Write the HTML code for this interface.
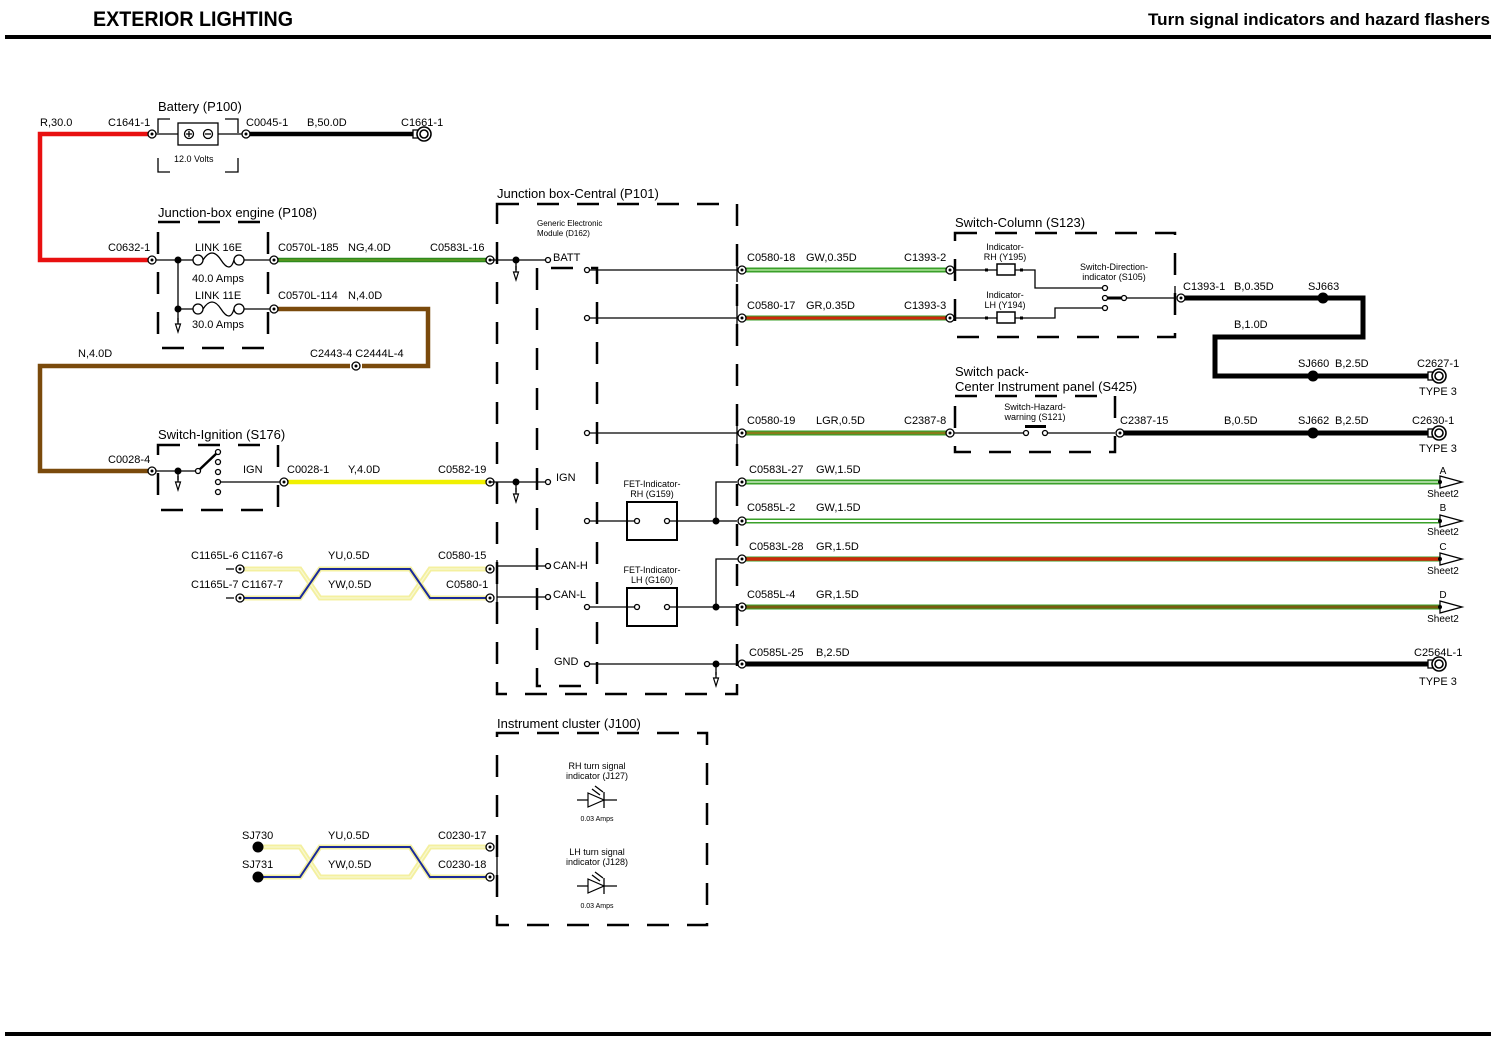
<!DOCTYPE html>
<html><head><meta charset="utf-8"><style>
html,body{margin:0;padding:0;background:#fff;}
svg{display:block;font-family:"Liberation Sans",sans-serif;}
.t{font-size:11px;fill:#000;}
.s{font-size:9px;fill:#000;}
.xs{font-size:7px;fill:#000;}
.h{font-size:13px;fill:#000;}
.d{fill:none;stroke:#000;stroke-width:2.5;stroke-dasharray:22,18;}
.l{fill:none;stroke:#000;stroke-width:1.3;}
.c{fill:#fff;stroke:#000;stroke-width:1.3;}
</style></head><body>
<svg width="1512" height="1042" viewBox="0 0 1512 1042" xmlns="http://www.w3.org/2000/svg">
<defs>
<g id="cn"><circle r="4" class="c"/><circle r="1.5" fill="#000"/></g>
<g id="gr"><path d="M0,0 v8" class="l"/><path d="M-2.5,6 L0,14 L2.5,6 Z" fill="#fff" stroke="#000" stroke-width="1.2"/></g>
<g id="gnd"><rect x="-11" y="-4" width="5" height="8" fill="#fff" stroke="#000" stroke-width="1.3"/><circle r="7" fill="#fff" stroke="#000" stroke-width="1.6"/><circle r="4" fill="none" stroke="#000" stroke-width="1.6"/></g>
<g id="ar"><path d="M0,-6 L22,0 L0,6 Z" fill="#fff" stroke="#000" stroke-width="1.3"/><circle r="2" fill="#000"/></g>
</defs>

<!-- header -->
<text x="93" y="26" style="font-size:21px;font-weight:bold" textLength="200" lengthAdjust="spacingAndGlyphs">EXTERIOR LIGHTING</text>
<text x="1148" y="25" style="font-size:17px;font-weight:bold" textLength="342" lengthAdjust="spacingAndGlyphs">Turn signal indicators and hazard flashers</text>
<rect x="5" y="35" width="1486" height="4" fill="#000"/>
<rect x="5" y="1032" width="1486" height="4" fill="#000"/>

<!-- red wire -->
<path d="M152,134 H40 V260 H152" fill="none" stroke="#e81010" stroke-width="4.5"/>
<text class="t" x="40" y="126">R,30.0</text>
<!-- battery -->
<text class="h" x="158" y="111">Battery (P100)</text>
<path d="M158,133 V119 H170 M225,119 H238 V133 M158,158 V172 H170 M225,172 H238 V158" class="l" stroke-width="2.5"/>
<path d="M152,134 H178 M218,134 H246" class="l"/>
<rect x="178" y="123" width="40" height="22" fill="#fff" stroke="#000" stroke-width="1.3"/>
<circle cx="189" cy="134" r="4.5" class="c"/><path d="M186,134h6M189,131v6" class="l"/>
<circle cx="208" cy="134" r="4.5" class="c"/><path d="M205,134h6" class="l"/>
<text class="s" x="174" y="162">12.0 Volts</text>
<text class="t" x="108" y="126">C1641-1</text>
<text class="t" x="246" y="126">C0045-1</text>
<text class="t" x="307" y="126">B,50.0D</text>
<text class="t" x="401" y="126">C1661-1</text>
<path d="M246,134 H414" stroke="#000" stroke-width="4.5"/>
<use href="#gnd" x="424" y="134"/>
<use href="#cn" x="152" y="134"/><use href="#cn" x="246" y="134"/>

<!-- junction box engine -->
<text class="h" x="158" y="217">Junction-box engine (P108)</text>
<path d="M158,222 H268 V348 H158 Z" class="d"/>
<text class="t" x="108" y="251">C0632-1</text>
<path d="M152,260 H193 M244,260 H274 M178,309 H193 M244,309 H274 M178,260 V322" class="l"/>
<circle cx="178" cy="260" r="3.5"/><circle cx="178" cy="309" r="3.5"/>
<use href="#gr" x="178" y="318"/>
<circle cx="198" cy="260" r="5" class="c"/><circle cx="239" cy="260" r="5" class="c"/>
<path d="M203,260 q9,-14 18,0 q9,14 13,0" class="l"/>
<circle cx="198" cy="309" r="5" class="c"/><circle cx="239" cy="309" r="5" class="c"/>
<path d="M203,309 q9,-14 18,0 q9,14 13,0" class="l"/>
<text class="t" x="195" y="251">LINK 16E</text>
<text class="t" x="192" y="282">40.0 Amps</text>
<text class="t" x="195" y="299">LINK 11E</text>
<text class="t" x="192" y="328">30.0 Amps</text>
<text class="t" x="278" y="251">C0570L-185</text>
<text class="t" x="348" y="251">NG,4.0D</text>
<text class="t" x="430" y="251">C0583L-16</text>
<text class="t" x="278" y="299">C0570L-114</text>
<text class="t" x="348" y="299">N,4.0D</text>
<path d="M274,260 H490" stroke="#2e8a1e" stroke-width="4.5"/>
<path d="M274,260 H490" stroke="#6a9a20" stroke-width="1.2"/>
<path d="M274,309 H428 V366 H362 M350,366 H40 V471 H152" fill="none" stroke="#7a4a0c" stroke-width="4.5"/>
<use href="#cn" x="152" y="260"/><use href="#cn" x="274" y="260"/><use href="#cn" x="274" y="309"/><use href="#cn" x="490" y="260"/>
<use href="#cn" x="356" y="366"/>
<text class="t" x="78" y="357">N,4.0D</text>
<text class="t" x="310" y="357">C2443-4 C2444L-4</text>

<!-- switch ignition -->
<text class="h" x="158" y="439">Switch-Ignition (S176)</text>
<path d="M158,445 H278 V510 H158 Z" class="d"/>
<text class="t" x="108" y="463">C0028-4</text>
<path d="M152,471 H198 M178,471 V480 M218,482 H284" class="l"/>
<circle cx="178" cy="471" r="3.5"/><use href="#gr" x="178" y="476"/>
<path d="M198,471 L218,452" stroke="#000" stroke-width="2.5"/>
<circle cx="198" cy="471" r="2.5" class="c"/>
<circle cx="218" cy="452" r="2.5" class="c"/><circle cx="218" cy="462" r="2.5" class="c"/><circle cx="218" cy="472" r="2.5" class="c"/><circle cx="218" cy="482" r="2.5" class="c"/><circle cx="218" cy="492" r="2.5" class="c"/>
<text class="t" x="243" y="473">IGN</text>
<text class="t" x="287" y="473">C0028-1</text>
<text class="t" x="348" y="473">Y,4.0D</text>
<text class="t" x="438" y="473">C0582-19</text>
<path d="M284,482 H490" stroke="#f0f000" stroke-width="4.5"/>
<use href="#cn" x="152" y="471"/><use href="#cn" x="284" y="482"/><use href="#cn" x="490" y="482"/>

<!-- CAN twisted pair -->
<text class="t" x="191" y="559">C1165L-6 C1167-6</text>
<text class="t" x="191" y="588">C1165L-7 C1167-7</text>
<text class="t" x="328" y="559">YU,0.5D</text>
<text class="t" x="328" y="588">YW,0.5D</text>
<text class="t" x="438" y="559">C0580-15</text>
<text class="t" x="446" y="588">C0580-1</text>
<g fill="none" stroke-width="5" stroke="#f4f0a0">
<path d="M240,569 H300 L320,598 H410 L430,569 H490"/>
<path d="M240,598 H300 L320,569 H410 L430,598 H490"/>
</g>
<path d="M240,569 H300 L320,598 H410 L430,569 H490" fill="none" stroke="#f8f8d0" stroke-width="1.3"/>
<path d="M240,598 H300 L320,569 H410 L430,598 H490" fill="none" stroke="#1a2a9a" stroke-width="2"/>
<use href="#cn" x="240" y="569"/><use href="#cn" x="240" y="598"/>
<path d="M226,569h8M226,598h8" class="l"/>
<use href="#cn" x="490" y="569"/><use href="#cn" x="490" y="598"/>
<path d="M497,560 V606" class="l"/>

<!-- junction box central -->
<text class="h" x="497" y="198">Junction box-Central (P101)</text>
<path d="M497,204 H737 V694 H497 Z" class="d"/>
<path d="M537,268 V686 H597 V268 H537" class="d"/>
<text class="xs" x="537" y="226" style="font-size:8px">Generic Electronic</text>
<text class="xs" x="537" y="236" style="font-size:8px">Module (D162)</text>
<path d="M490,260 H545 M516,260 V270 M490,482 H545 M516,482 V492 M497,566 H545 M497,597 H545" class="l"/>
<circle cx="516" cy="260" r="3.5"/><use href="#gr" x="516" y="266"/>
<circle cx="516" cy="482" r="3.5"/><use href="#gr" x="516" y="488"/>
<circle cx="548" cy="260" r="2.5" class="c"/><text class="t" x="553" y="261">BATT</text>
<circle cx="548" cy="482" r="2.5" class="c"/><text class="t" x="556" y="481">IGN</text>
<circle cx="548" cy="566" r="2.5" class="c"/><text class="t" x="553" y="569">CAN-H</text>
<circle cx="548" cy="597" r="2.5" class="c"/><text class="t" x="553" y="598">CAN-L</text>
<circle cx="587" cy="664" r="2.5" class="c"/><text class="t" x="554" y="665">GND</text>
<path d="M590,270 H737 M590,318 H737 M590,433 H737" class="l"/>
<circle cx="587" cy="270" r="2.5" class="c"/><circle cx="587" cy="318" r="2.5" class="c"/><circle cx="587" cy="433" r="2.5" class="c"/>
<!-- FET -->
<text class="s" x="652" y="487" text-anchor="middle">FET-Indicator-</text>
<text class="s" x="652" y="497" text-anchor="middle">RH (G159)</text>
<rect x="627" y="502" width="50" height="38" fill="#fff" stroke="#000" stroke-width="2"/>
<path d="M590,521 H637 M667,521 H737 M716,521 V482 H737" class="l" stroke-width="1.8"/>
<circle cx="587" cy="521" r="2.5" class="c"/><circle cx="637" cy="521" r="2.5" class="c"/><circle cx="667" cy="521" r="2.5" class="c"/><circle cx="716" cy="521" r="3.5"/>
<text class="s" x="652" y="573" text-anchor="middle">FET-Indicator-</text>
<text class="s" x="652" y="583" text-anchor="middle">LH (G160)</text>
<rect x="627" y="588" width="50" height="38" fill="#fff" stroke="#000" stroke-width="2"/>
<path d="M590,607 H637 M667,607 H742 M716,607 V559 H742" class="l"/>
<circle cx="587" cy="607" r="2.5" class="c"/><circle cx="637" cy="607" r="2.5" class="c"/><circle cx="667" cy="607" r="2.5" class="c"/><circle cx="716" cy="607" r="3.5"/>
<path d="M590,664 H742 M716,664 V675" class="l"/>
<circle cx="716" cy="664" r="3.5"/><use href="#gr" x="716" y="672"/>

<!-- right wires -->
<g>
<path d="M742,270 H950" stroke="#3aa02a" stroke-width="5"/><path d="M742,270 H950" stroke="#c8f0b0" stroke-width="1.3"/>
<path d="M742,318 H950" stroke="#3aa02a" stroke-width="5"/><path d="M742,318 H950" stroke="#cc2a0a" stroke-width="3"/>
<path d="M742,433 H950" stroke="#3aa02a" stroke-width="5"/><path d="M742,433 H950" stroke="#8a7a1a" stroke-width="2.5"/>
<path d="M742,482 H1440" stroke="#3aa02a" stroke-width="5"/><path d="M742,482 H1440" stroke="#e8f8e0" stroke-width="1.3"/>
<path d="M742,521 H1440" stroke="#3aa02a" stroke-width="5"/><path d="M742,521 H1440" stroke="#fff" stroke-width="2"/>
<path d="M742,559 H1440" stroke="#3aa02a" stroke-width="5"/><path d="M742,559 H1440" stroke="#cc2a0a" stroke-width="3.5"/>
<path d="M742,607 H1440" stroke="#3aa02a" stroke-width="5"/><path d="M742,607 H1440" stroke="#7a5a10" stroke-width="3"/>
<path d="M742,664 H1428" stroke="#000" stroke-width="5"/>
</g>
<path d="M737,258 V282 M737,306 V330 M737,421 V445" class="l" stroke-width="2"/>
<use href="#cn" x="742" y="270"/><use href="#cn" x="742" y="318"/><use href="#cn" x="742" y="433"/>
<use href="#cn" x="742" y="482"/><use href="#cn" x="742" y="521"/><use href="#cn" x="742" y="559"/><use href="#cn" x="742" y="607"/><use href="#cn" x="742" y="664"/>
<use href="#cn" x="950" y="270"/><use href="#cn" x="950" y="318"/><use href="#cn" x="950" y="433"/>
<text class="t" x="747" y="261">C0580-18</text><text class="t" x="806" y="261">GW,0.35D</text><text class="t" x="904" y="261">C1393-2</text>
<text class="t" x="747" y="309">C0580-17</text><text class="t" x="806" y="309">GR,0.35D</text><text class="t" x="904" y="309">C1393-3</text>
<text class="t" x="747" y="424">C0580-19</text><text class="t" x="816" y="424">LGR,0.5D</text><text class="t" x="904" y="424">C2387-8</text>
<text class="t" x="749" y="473">C0583L-27</text><text class="t" x="816" y="473">GW,1.5D</text>
<text class="t" x="747" y="511">C0585L-2</text><text class="t" x="816" y="511">GW,1.5D</text>
<text class="t" x="749" y="550">C0583L-28</text><text class="t" x="816" y="550">GR,1.5D</text>
<text class="t" x="747" y="598">C0585L-4</text><text class="t" x="816" y="598">GR,1.5D</text>
<text class="t" x="749" y="656">C0585L-25</text><text class="t" x="816" y="656">B,2.5D</text>
<use href="#ar" x="1440" y="482"/><use href="#ar" x="1440" y="521"/><use href="#ar" x="1440" y="559"/><use href="#ar" x="1440" y="607"/>
<g class="s" style="font-size:10px">
<text x="1443" y="474" text-anchor="middle">A</text><text x="1443" y="497" text-anchor="middle">Sheet2</text>
<text x="1443" y="511" text-anchor="middle">B</text><text x="1443" y="535" text-anchor="middle">Sheet2</text>
<text x="1443" y="550" text-anchor="middle">C</text><text x="1443" y="574" text-anchor="middle">Sheet2</text>
<text x="1443" y="598" text-anchor="middle">D</text><text x="1443" y="622" text-anchor="middle">Sheet2</text>
</g>
<use href="#gnd" x="1439" y="664"/>
<text class="t" x="1414" y="656">C2564L-1</text><text class="t" x="1419" y="685">TYPE 3</text>

<!-- switch column -->
<text class="h" x="955" y="227">Switch-Column (S123)</text>
<path d="M955,233 H1175 V337 H955 Z" class="d"/>
<path d="M954,270 H997 M1015,270 H1035 V288 H1103 M954,318 H997 M1015,318 H1055 V308 H1103 M1106,298 H1175 M1181,298" class="l" stroke-width="1.5"/>
<rect x="997" y="264" width="18" height="11" fill="#fff" stroke="#000" stroke-width="1.5"/>
<rect x="997" y="312" width="18" height="11" fill="#fff" stroke="#000" stroke-width="1.5"/>
<rect x="985" y="268.5" width="3" height="3"/><rect x="1020" y="268.5" width="3" height="3"/>
<rect x="985" y="316.5" width="3" height="3"/><rect x="1020" y="316.5" width="3" height="3"/>
<path d="M1106,298 H1124" stroke="#000" stroke-width="3"/>
<circle cx="1105" cy="288" r="2.5" class="c"/><circle cx="1105" cy="298" r="2.5" class="c"/><circle cx="1105" cy="308" r="2.5" class="c"/><circle cx="1124" cy="298" r="2.5" class="c"/>
<path d="M1175,286 V310" class="l" stroke-width="2"/>
<text class="s" x="1005" y="250" text-anchor="middle">Indicator-</text><text class="s" x="1005" y="260" text-anchor="middle">RH (Y195)</text>
<text class="s" x="1005" y="298" text-anchor="middle">Indicator-</text><text class="s" x="1005" y="308" text-anchor="middle">LH (Y194)</text>
<text class="s" x="1114" y="270" text-anchor="middle">Switch-Direction-</text><text class="s" x="1114" y="280" text-anchor="middle">indicator (S105)</text>
<path d="M1181,298 H1363 V337 H1215 V376 H1428" fill="none" stroke="#000" stroke-width="5"/>
<use href="#cn" x="1181" y="298"/>
<circle cx="1323" cy="298" r="5.5"/><circle cx="1313" cy="376" r="5.5"/>
<use href="#gnd" x="1439" y="376"/>
<text class="t" x="1183" y="290">C1393-1</text><text class="t" x="1234" y="290">B,0.35D</text><text class="t" x="1308" y="290">SJ663</text>
<text class="t" x="1234" y="328">B,1.0D</text>
<text class="t" x="1298" y="367">SJ660</text><text class="t" x="1335" y="367">B,2.5D</text>
<text class="t" x="1417" y="367">C2627-1</text><text class="t" x="1419" y="395">TYPE 3</text>

<!-- switch pack -->
<text class="h" x="955" y="376">Switch pack-</text>
<text class="h" x="955" y="391">Center Instrument panel (S425)</text>
<path d="M955,396 H1115 V452 H955 Z" class="d"/>
<path d="M954,433 H1025 M1045,433 H1115" class="l" stroke-width="1.5"/>
<circle cx="1026" cy="433" r="2.5" class="c"/><circle cx="1045" cy="433" r="2.5" class="c"/>
<rect x="1025" y="425" width="21" height="3"/>
<text class="s" x="1035" y="410" text-anchor="middle">Switch-Hazard-</text><text class="s" x="1035" y="420" text-anchor="middle">warning (S121)</text>
<path d="M1120,433 H1428" stroke="#000" stroke-width="5"/>
<use href="#cn" x="1120" y="433"/>
<circle cx="1313" cy="433" r="5.5"/><use href="#gnd" x="1439" y="433"/>
<text class="t" x="1120" y="424">C2387-15</text><text class="t" x="1224" y="424">B,0.5D</text>
<text class="t" x="1298" y="424">SJ662</text><text class="t" x="1335" y="424">B,2.5D</text>
<text class="t" x="1412" y="424">C2630-1</text><text class="t" x="1419" y="452">TYPE 3</text>

<!-- instrument cluster -->
<text class="h" x="497" y="728">Instrument cluster (J100)</text>
<path d="M497,733 H707 V925 H497 Z" class="d"/>
<text class="s" x="597" y="769" text-anchor="middle">RH turn signal</text><text class="s" x="597" y="779" text-anchor="middle">indicator (J127)</text>
<path d="M577,800 H617" class="l"/><path d="M588,793 V807 L604,800 Z" fill="#fff" stroke="#000" stroke-width="1.2"/><path d="M604,792 V808" class="l" stroke-width="1.8"/>
<path d="M592,789 l8,6 M595,786 l8,6" class="l"/>
<text class="xs" x="597" y="821" text-anchor="middle">0.03 Amps</text>
<text class="s" x="597" y="855" text-anchor="middle">LH turn signal</text><text class="s" x="597" y="865" text-anchor="middle">indicator (J128)</text>
<path d="M577,886 H617" class="l"/><path d="M588,879 V893 L604,886 Z" fill="#fff" stroke="#000" stroke-width="1.2"/><path d="M604,878 V894" class="l" stroke-width="1.8"/>
<path d="M592,875 l8,6 M595,872 l8,6" class="l"/>
<text class="xs" x="597" y="908" text-anchor="middle">0.03 Amps</text>

<text class="t" x="242" y="839">SJ730</text><text class="t" x="242" y="868">SJ731</text>
<text class="t" x="328" y="839">YU,0.5D</text><text class="t" x="328" y="868">YW,0.5D</text>
<text class="t" x="438" y="839">C0230-17</text><text class="t" x="438" y="868">C0230-18</text>
<g fill="none" stroke-width="5" stroke="#f4f0a0">
<path d="M258,847 H300 L320,877 H410 L430,847 H490"/>
<path d="M258,877 H300 L320,847 H410 L430,877 H490"/>
</g>
<path d="M258,847 H300 L320,877 H410 L430,847 H490" fill="none" stroke="#f8f8d0" stroke-width="1.3"/>
<path d="M258,877 H300 L320,847 H410 L430,877 H490" fill="none" stroke="#1a2a9a" stroke-width="2"/>
<circle cx="258" cy="847" r="5.5"/><circle cx="258" cy="877" r="5.5"/>
<use href="#cn" x="490" y="847"/><use href="#cn" x="490" y="877"/>
<path d="M497,840 V884" class="l"/>
</svg>
</body></html>
